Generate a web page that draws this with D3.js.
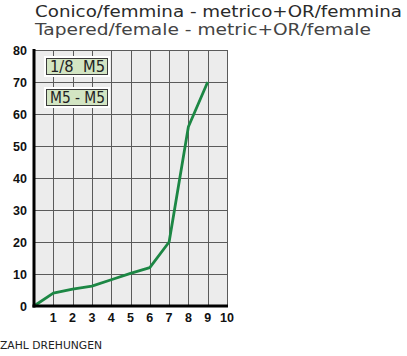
<!DOCTYPE html>
<html>
<head>
<meta charset="utf-8">
<script src="https://cdn.jsdelivr.net/npm/d3@7"></script>
<style>
  html, body { margin: 0; padding: 0; background: #fff; }
  svg { display: block; }
</style>
</head>
<body>
<svg id="chart" width="407" height="356"></svg>
<script>
// Torque curve: turns vs. value
const turns = [0, 1, 2, 3, 4, 5, 6, 7, 8, 9];
const values = [0, 4, 5.3, 6.2, 8.2, 10.2, 12, 20, 56, 70];
const xTicks = [1, 2, 3, 4, 5, 6, 7, 8, 9, 10];
const yTicks = [0, 10, 20, 30, 40, 50, 60, 70, 80];
const legendLabels = ["1/8  M5", "M5 - M5"];
const titleLines = ["Conico/femmina - metrico+OR/femmina", "Tapered/female - metric+OR/female"];
const axisCaption = "ZAHL DREHUNGEN";

const svg = d3.select("#chart");
const plotL = 34, plotR = 227, plotT = 50, plotB = 306;

const x = d3.scaleLinear().domain([0, 10]).range([plotL, plotR]);
const y = d3.scaleLinear().domain([0, 80]).range([plotB, plotT]);

// Titles
svg.append("text").attr("x", 35).attr("y", 17)
  .attr("font-family", "DejaVu Sans").attr("font-size", 15).attr("fill", "#2a2a2a")
  .attr("textLength", 367).attr("lengthAdjust", "spacingAndGlyphs")
  .text(titleLines[0]);
svg.append("text").attr("x", 35).attr("y", 34.5)
  .attr("font-family", "DejaVu Sans").attr("font-size", 15).attr("fill", "#444")
  .attr("textLength", 336).attr("lengthAdjust", "spacingAndGlyphs")
  .text(titleLines[1]);

// Plot background
svg.append("rect").attr("x", plotL).attr("y", plotT)
  .attr("width", plotR - plotL).attr("height", plotB - plotT)
  .attr("fill", "#ececec");

// Grid
const grid = svg.append("g").attr("stroke", "#5a5a5a").attr("stroke-width", 1);
grid.selectAll("line.v").data(xTicks).join("line").attr("class", "v")
  .attr("x1", d => Math.round(x(d)) + 0.5).attr("x2", d => Math.round(x(d)) + 0.5)
  .attr("y1", plotT).attr("y2", plotB);
grid.selectAll("line.h").data(yTicks.filter(d => d > 0)).join("line").attr("class", "h")
  .attr("x1", plotL).attr("x2", plotR)
  .attr("y1", d => Math.round(y(d)) + 0.5).attr("y2", d => Math.round(y(d)) + 0.5);

// Legend boxes
const boxes = svg.append("g");
legendLabels.forEach((lab, i) => {
  const by = 58 + i * 31;
  boxes.append("rect").attr("x", 44).attr("y", by - 2).attr("width", 66).attr("height", 21)
    .attr("fill", "#fff");
  boxes.append("rect").attr("x", 46.5).attr("y", by + 0.5).attr("width", 61).attr("height", 16)
    .attr("fill", "#d3e5c3").attr("stroke", "#3a3a3a").attr("stroke-width", 1);
  boxes.append("text").attr("x", 50).attr("y", by + 14)
    .attr("font-family", "DejaVu Sans").attr("font-size", 15).attr("fill", "#222")
    .attr("textLength", 55).attr("lengthAdjust", "spacingAndGlyphs")
    .style("white-space", "pre")
    .text(lab);
});

// Curve
svg.append("path")
  .datum(turns.map((t, i) => [t, values[i]]))
  .attr("fill", "none").attr("stroke", "#1c8744").attr("stroke-width", 2.8)
  .attr("stroke-linejoin", "round")
  .attr("d", d3.line().x(d => x(d[0])).y(d => y(d[1])));

// Axis lines
svg.append("line").attr("x1", plotL).attr("x2", plotL).attr("y1", plotT - 1).attr("y2", plotB + 1.5)
  .attr("stroke", "#000").attr("stroke-width", 3);
svg.append("line").attr("x1", plotL - 1.5).attr("x2", plotR + 1).attr("y1", plotB).attr("y2", plotB)
  .attr("stroke", "#000").attr("stroke-width", 3);

// Tick labels
svg.append("g").selectAll("text").data(yTicks).join("text")
  .attr("x", 27).attr("y", d => y(d) + 4.5).attr("text-anchor", "end")
  .attr("font-family", "Liberation Sans").attr("font-weight", "bold").attr("font-size", 12.5)
  .attr("fill", "#111").text(d => d);
svg.append("g").selectAll("text").data(xTicks).join("text")
  .attr("x", d => x(d)).attr("y", 322).attr("text-anchor", "middle")
  .attr("font-family", "Liberation Sans").attr("font-weight", "bold").attr("font-size", 12.5)
  .attr("fill", "#111").text(d => d);

// Axis caption
svg.append("text").attr("x", 0).attr("y", 348.5)
  .attr("font-family", "DejaVu Sans").attr("font-size", 10.5).attr("fill", "#222")
  .attr("textLength", 102).attr("lengthAdjust", "spacingAndGlyphs")
  .text(axisCaption);
</script>
</body>
</html>
